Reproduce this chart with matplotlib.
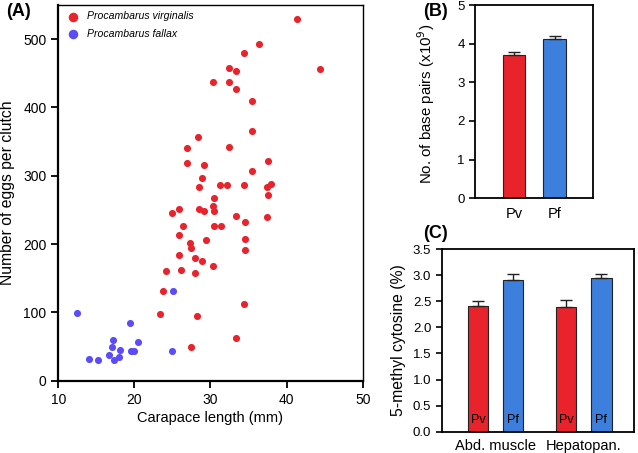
import numpy as np
from matplotlib import pyplot as plt

plt.rcParams['font.family'] = ['Liberation Sans', 'DejaVu Sans']

# panel A: carapace length (mm) vs eggs per clutch
pv_len = [41.4, 44.4, 36.4, 34.4, 32.4, 33.4, 30.3, 32.4, 33.35, 35.4,
          35.4, 28.4, 26.85, 32.4, 26.9, 29.1, 37.5, 35.4, 28.9, 28.5,
          31.3, 32.2, 34.4, 37.4, 37.9, 37.5, 30.4, 30.3, 25.8, 28.5,
          29.1, 30.4, 24.9, 33.4, 37.4, 34.5, 26.4, 30.4, 31.4, 25.9,
          34.5, 29.4, 27.3, 27.4, 25.9, 27.9, 34.5, 28.9, 30.3, 24.2,
          26.1, 27.9, 23.8, 23.4, 34.4, 28.2, 33.4, 27.5]
pv_eggs = [530, 456, 493, 480, 458, 454, 437, 438, 427, 409,
           366, 357, 340, 342, 319, 316, 321, 307, 297, 283,
           286, 286, 286, 284, 288, 272, 268, 256, 252, 251,
           248, 248, 246, 241, 240, 232, 227, 226, 226, 214,
           207, 206, 202, 194, 184, 180, 191, 175, 168, 160,
           162, 158, 131, 98, 112, 95, 63, 50]
pf_len = [12.4, 25.1, 19.4, 17.2, 17.1, 18.1, 19.6, 20.0, 20.5, 25.0,
          14.0, 15.2, 16.6, 17.3, 18.0]
pf_eggs = [99, 132, 85, 60, 50, 45, 44, 44, 56, 44,
           32, 31, 37, 30, 35]

# panel B: genome size
b_labels = ['Pv', 'Pf']
b_vals = [3.71, 4.11]
b_err = [0.07, 0.10]

# panel C: 5-methyl cytosine
c_groups = ['Abd. muscle', 'Hepatopan.']
c_pv = [2.41, 2.38]
c_pv_err = [0.09, 0.14]
c_pf = [2.91, 2.95]
c_pf_err = [0.12, 0.08]

red = '#e8232b'
blue_pt = '#5b4cf7'
blue_bar = '#3d7fdc'

fig = plt.figure(figsize=(6.38, 4.53), dpi=100)
W, H = 638, 453

def px_axes(l, t, r, b):
    return fig.add_axes([l / W, 1 - b / H, (r - l) / W, (b - t) / H])

ekw = dict(ecolor='#222222', elinewidth=1, capsize=4, capthick=1)

#%% panel A
ax = px_axes(58.3, 5, 362.7, 380.7)
ax.scatter(pv_len, pv_eggs, s=26, color=red, lw=0, label='Procambarus virginalis', zorder=3)
ax.scatter(pf_len, pf_eggs, s=26, color=blue_pt, lw=0, label='Procambarus fallax', zorder=3)
ax.set_xlim(10, 50)
ax.set_ylim(0, 550)
ax.set_xticks([10, 20, 30, 40, 50])
ax.set_yticks([0, 100, 200, 300, 400, 500])
ax.tick_params(direction='out', length=5, width=1.3, labelsize=10)
for s in ['left', 'bottom']:
    ax.spines[s].set_linewidth(1.6)
for s in ['top', 'right']:
    ax.spines[s].set_linewidth(1.0)
ax.set_xlabel('Carapace length (mm)', fontsize=10.5, labelpad=3)
ax.set_ylabel('Number of eggs per clutch', fontsize=11.3, labelpad=6)
ax.legend(loc='upper left', frameon=False, prop={'style': 'italic', 'size': 7.6},
          handletextpad=0.5, labelspacing=0.75, borderaxespad=0.2,
          handlelength=1.6, markerscale=1.35, bbox_to_anchor=(0.0, 1.0))
fig.text(6 / W, 1 - 12 / H, '(A)', fontsize=13, fontweight='bold', va='center')

#%% panel B
bx = px_axes(475, 5, 593.3, 198.3)
xb = np.arange(1, len(b_vals) + 1)
bx.bar(xb, b_vals, width=0.55, color=[red, blue_bar], edgecolor='#222222', lw=0.8,
       yerr=[np.zeros(2), b_err], error_kw=ekw)
bx.set_xlim(0.047, 2.95)
bx.set_ylim(0, 5)
bx.set_yticks([0, 1, 2, 3, 4, 5])
bx.set_xticks(xb)
bx.set_xticklabels(b_labels)
bx.tick_params(axis='y', direction='out', length=4, width=1.2, labelsize=9.5)
bx.tick_params(axis='x', length=0, labelsize=10.5, pad=6)
for s in bx.spines.values():
    s.set_linewidth(1.3)
bx.set_ylabel('No. of base pairs (x10$^9$)', fontsize=10.8, labelpad=5)
bx.yaxis.set_label_coords(-0.32, 0.49)
fig.text(423 / W, 1 - 12 / H, '(B)', fontsize=13, fontweight='bold', va='center')

#%% panel C
cx = px_axes(441.7, 249, 634, 431.7)
xc = np.arange(len(c_groups))
off = 0.2
bw = 0.23
cx.bar(xc - off, c_pv, width=bw, color=red, edgecolor='#222222', lw=0.8,
       yerr=[np.zeros(2), c_pv_err], error_kw=ekw)
cx.bar(xc + off, c_pf, width=bw, color=blue_bar, edgecolor='#222222', lw=0.8,
       yerr=[np.zeros(2), c_pf_err], error_kw=ekw)
for x in xc:
    cx.text(x - off, 0.22, 'Pv', ha='center', va='center', fontsize=9)
    cx.text(x + off, 0.22, 'Pf', ha='center', va='center', fontsize=9)
cx.set_xlim(-0.61, 1.57)
cx.set_ylim(0, 3.5)
cx.set_yticks(np.arange(0, 3.51, 0.5))
cx.set_yticklabels([f'{v:.1f}' for v in np.arange(0, 3.51, 0.5)])
cx.set_xticks(xc)
cx.set_xticklabels(c_groups)
cx.tick_params(axis='y', direction='out', length=4, width=1.2, labelsize=9.5)
cx.tick_params(axis='x', length=0, labelsize=10.5, pad=5)
for s in cx.spines.values():
    s.set_linewidth(1.3)
cx.set_ylabel('5-methyl cytosine (%)', fontsize=11.3, labelpad=5)
fig.text(423 / W, 1 - 234 / H, '(C)', fontsize=13, fontweight='bold', va='center')

fig.savefig('out.png', dpi=100)
